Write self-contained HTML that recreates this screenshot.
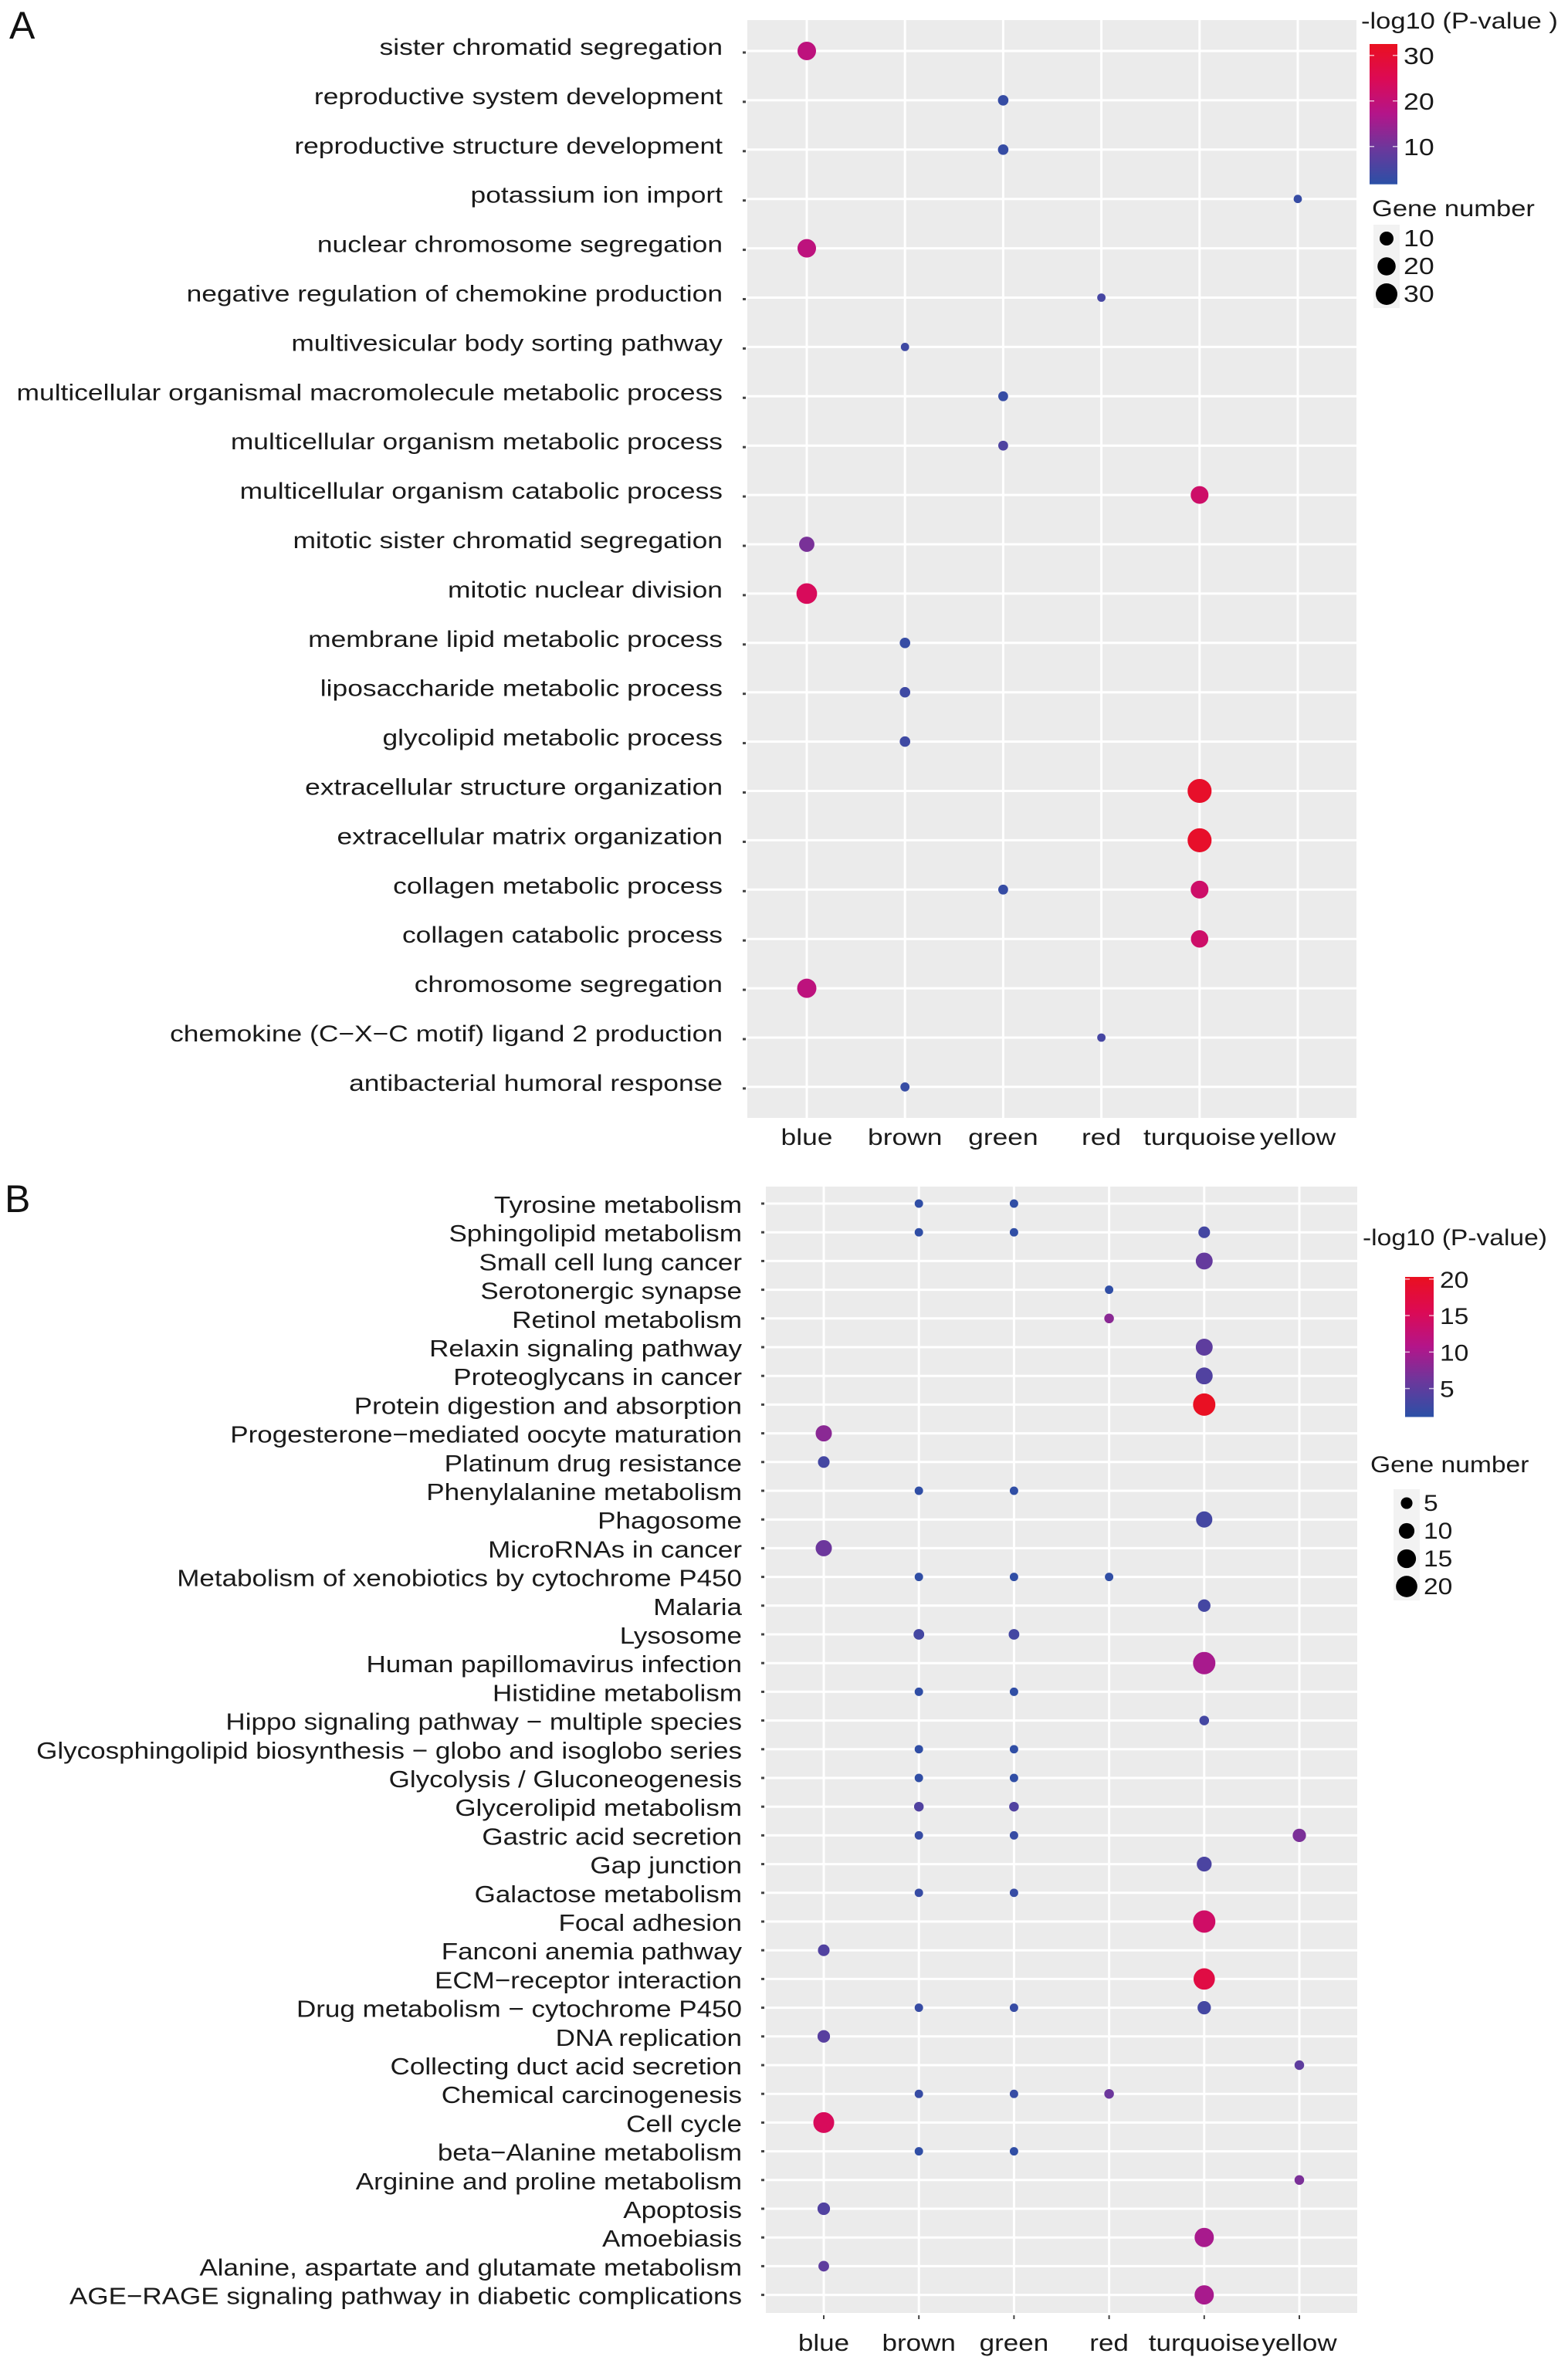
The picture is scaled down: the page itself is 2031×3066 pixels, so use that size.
<!DOCTYPE html>
<html><head><meta charset="utf-8"><style>
html,body{margin:0;padding:0;background:#fff;}
svg{display:block;font-family:"Liberation Sans",Arial,sans-serif;}
</style></head><body>
<svg id="fig" width="2031" height="3066" viewBox="0 0 2031 3066" xmlns="http://www.w3.org/2000/svg">
<text x="12" y="50" font-size="50" fill="#111">A</text>
<text x="6" y="1570" font-size="50" fill="#111">B</text>
<g id="gA"></g>
<g id="gB"></g>
</svg>
<script>
const modules = ["blue","brown","green","red","turquoise","yellow"];
const termsA = ["sister chromatid segregation","reproductive system development","reproductive structure development","potassium ion import","nuclear chromosome segregation","negative regulation of chemokine production","multivesicular body sorting pathway","multicellular organismal macromolecule metabolic process","multicellular organism metabolic process","multicellular organism catabolic process","mitotic sister chromatid segregation","mitotic nuclear division","membrane lipid metabolic process","liposaccharide metabolic process","glycolipid metabolic process","extracellular structure organization","extracellular matrix organization","collagen metabolic process","collagen catabolic process","chromosome segregation","chemokine (C\u2212X\u2212C motif) ligand 2 production","antibacterial humoral response"];
const ptTermA = [0,1,2,3,4,5,6,7,8,9,10,11,12,13,14,15,16,17,17,18,19,20,21];
const ptModA = ["blue","green","green","yellow","blue","red","brown","green","green","turquoise","blue","blue","brown","brown","brown","turquoise","turquoise","green","turquoise","turquoise","blue","red","brown"];
const ptGenesA = [21,4,4,1,21,1,1,3,3,19,13,27,4,4,4,38,38,3,19,18,23,1,2];
const ptLogPA = [19,3,3,3,19,5,4,3,6,22,11,24,3,4,4,31,31,3,22,22,19,5,3];
const colorTicksA = [10,20,30];
const sizeTicksA = [10,20,30];

const termsB = ["Tyrosine metabolism","Sphingolipid metabolism","Small cell lung cancer","Serotonergic synapse","Retinol metabolism","Relaxin signaling pathway","Proteoglycans in cancer","Protein digestion and absorption","Progesterone\u2212mediated oocyte maturation","Platinum drug resistance","Phenylalanine metabolism","Phagosome","MicroRNAs in cancer","Metabolism of xenobiotics by cytochrome P450","Malaria","Lysosome","Human papillomavirus infection","Histidine metabolism","Hippo signaling pathway \u2212 multiple species","Glycosphingolipid biosynthesis \u2212 globo and isoglobo series","Glycolysis / Gluconeogenesis","Glycerolipid metabolism","Gastric acid secretion","Gap junction","Galactose metabolism","Focal adhesion","Fanconi anemia pathway","ECM\u2212receptor interaction","Drug metabolism \u2212 cytochrome P450","DNA replication","Collecting duct acid secretion","Chemical carcinogenesis","Cell cycle","beta\u2212Alanine metabolism","Arginine and proline metabolism","Apoptosis","Amoebiasis","Alanine, aspartate and glutamate metabolism","AGE\u2212RAGE signaling pathway in diabetic complications"];
const ptTermB = [0,0,1,1,1,2,3,4,5,6,7,8,9,10,10,11,12,13,13,13,14,15,15,16,17,17,18,19,19,20,20,21,21,22,22,22,23,24,24,25,26,27,28,28,28,29,30,31,31,31,32,33,33,34,35,36,37,38];
const ptModB = ["brown","green","brown","green","turquoise","turquoise","red","red","turquoise","turquoise","turquoise","blue","blue","brown","green","turquoise","blue","brown","green","red","turquoise","brown","green","turquoise","brown","green","turquoise","brown","green","brown","green","brown","green","brown","green","yellow","turquoise","brown","green","turquoise","blue","turquoise","brown","green","turquoise","blue","yellow","brown","green","red","blue","brown","green","yellow","blue","turquoise","blue","turquoise"];
const ptGenesB = [2,2,2,2,5,12,2,3,12,12,22,11,5,2,2,11,11,2,2,2,6,4,4,22,2,2,3,2,2,2,2,3,3,2,2,7,9,2,2,22,5,20,2,2,7,6,3,2,2,3,19,2,2,3,6,16,4,16];
const ptLogPB = [1.5,1.5,1.5,1.5,3,5.5,1.5,8,5,4,20,8,3,1.5,1.5,3,6,1.5,1.5,1.5,3,3,3,10,1.5,1.5,3,1.5,1.5,1.5,1.5,4,4,2,2,7,3.5,2,2,14,4,17,2,2,3,4.5,5,2,2,6,15,1.5,1.5,7,4,10,5,10];
const colorTicksB = [5,10,15,20];
const sizeTicksB = [5,10,15,20];

const NS="http://www.w3.org/2000/svg";
function mk(tag, attrs, parent, txt){const e=document.createElementNS(NS,tag);for(const k in attrs)e.setAttribute(k,attrs[k]);if(txt!==undefined)e.textContent=txt;parent.appendChild(e);return e;}
const stops=[[0,[43,80,166]],[0.25,[106,56,156]],[0.5,[179,21,138]],[0.75,[220,10,85]],[1,[234,16,32]]];
function grad(t){t=Math.max(0,Math.min(1,t));for(let i=1;i<stops.length;i++){if(t<=stops[i][0]){const a=stops[i-1],b=stops[i];const f=(t-a[0])/(b[0]-a[0]);const c=a[1].map((v,k)=>Math.round(v+(b[1][k]-v)*f));return `rgb(${c[0]},${c[1]},${c[2]})`;}}return 'rgb(234,16,32)';}

function panel(cfg){
  const g=document.getElementById(cfg.gid);
  const defs=mk('defs',{},g);
  const lg=mk('linearGradient',{id:cfg.gid+'grad',x1:0,y1:1,x2:0,y2:0},defs);
  stops.forEach(s=>mk('stop',{offset:s[0],'stop-color':`rgb(${s[1].join(',')})`},lg));
  const bg=mk('rect',{x:cfg.L,y:cfg.T,width:cfg.R-cfg.L,height:cfg.B-cfg.T,fill:'#ebebeb'},g);
  
  
  const xs=j=>cfg.x0+j*cfg.dx;
  const ys=i=>cfg.y0+i*cfg.dy;
  cfg.terms.forEach((t,i)=>{
    const l=mk('line',{x1:cfg.L,x2:cfg.R,y1:ys(i),y2:ys(i),stroke:'#fff','stroke-width':3},g);
    
    
    const tk=mk('line',{x1:cfg.L-6,x2:cfg.L-2,y1:ys(i)+cfg.tickOff,y2:ys(i)+cfg.tickOff,stroke:'#444','stroke-width':3},g);
    
    
    const tx=mk('text',{transform:`translate(${cfg.labR},${ys(i)+cfg.baseOff}) scale(${cfg.sx},1)`,'text-anchor':'end','font-size':cfg.fs,fill:'#1a1a1a'},g,t);
    
    
  });
  modules.forEach((m,j)=>{
    const l=mk('line',{x1:xs(j),x2:xs(j),y1:cfg.T,y2:cfg.B,stroke:'#fff','stroke-width':3},g);
    
    
    if(cfg.xTicks){const tk=mk('line',{x1:xs(j),x2:xs(j),y1:cfg.B+3,y2:cfg.B+8,stroke:'#444','stroke-width':2},g);
      
      }
    const tx=mk('text',{transform:`translate(${xs(j)},${cfg.xBase}) scale(${cfg.sx},1)`,'text-anchor':'middle','font-size':cfg.fs,fill:'#1a1a1a'},g,m);
    
    
  });
  const tOf=v=>(v-cfg.vmin)/(cfg.vmax-cfg.vmin);
  cfg.ptTerm.forEach((ti,k)=>{
    const c=mk('circle',{cx:xs(modules.indexOf(cfg.ptMod[k])),cy:ys(ti),r:cfg.rad(cfg.ptGenes[k]),fill:grad(tOf(cfg.ptLogP[k]))},g);
    
    
  });
  // color legend
  const lt=mk('text',{transform:`translate(${cfg.legX},${cfg.titleY}) scale(${cfg.lsx},1)`,'font-size':30,fill:'#1a1a1a'},g,cfg.cTitle);
  
  
  const cy=v=>cfg.barTopY+(cfg.vmax-v)*cfg.barPx;
  const bar=mk('rect',{x:cfg.barX,y:cy(cfg.vmax),width:cfg.barW,height:(cfg.vmax-cfg.vmin)*cfg.barPx,fill:`url(#${cfg.gid}grad)`},g);
  
  
  cfg.cTicks.forEach(v=>{
    [[cfg.barX,cfg.barX+6],[cfg.barX+cfg.barW-6,cfg.barX+cfg.barW]].forEach(p=>{
      const l=mk('line',{x1:p[0],x2:p[1],y1:cy(v),y2:cy(v),stroke:'#fff','stroke-width':1.5,opacity:0.7},g);
      
      
    });
    const t=mk('text',{transform:`translate(${cfg.barX+cfg.barW+8},${cy(v)+11}) scale(${cfg.lsx},1)`,'font-size':cfg.tfs,fill:'#1a1a1a'},g,String(v));
    
    
  });
  const st=mk('text',{transform:`translate(${cfg.sLegX},${cfg.sTitleY}) scale(${cfg.lsx},1)`,'font-size':30,fill:'#1a1a1a'},g,'Gene number');
  
  
  cfg.sTicks.forEach((v,k)=>{
    const yy=cfg.sY0+k*cfg.sDy;
    const kb=mk('rect',{x:cfg.sDotX-17,y:yy-cfg.sDy/2,width:34,height:cfg.sDy,fill:'#f2f2f2'},g);
    
    
    const c=mk('circle',{cx:cfg.sDotX,cy:yy,r:cfg.rad(v),fill:'#000'},g);
    
    
    const t=mk('text',{transform:`translate(${cfg.sDotX+22},${yy+10}) scale(${cfg.lsx},1)`,'font-size':cfg.tfs,fill:'#1a1a1a'},g,String(v));
    
    
  });
}

panel({gid:'gA',terms:termsA,ptTerm:ptTermA,ptMod:ptModA,ptGenes:ptGenesA,ptLogP:ptLogPA,
  L:968,R:1757,T:26,B:1448,x0:1045,dx:127.2,y0:66,dy:63.9,labR:936,baseOff:5,tickOff:2,fs:30,sx:1.18,
  xBase:1483,xTicks:false,vmin:1.7,vmax:32.5,rad:g=>Math.sqrt(23.5+5.75*g)*1.0,
  cTitle:'-log10 (P-value )',legX:1763,titleY:37,lsx:1.15,barX:1774,barW:36,barTopY:57,barPx:5.9,cTicks:colorTicksA,tfs:31,
  sLegX:1777,sTitleY:280,sTicks:sizeTicksA,sY0:309,sDy:36,sDotX:1796});
panel({gid:'gB',terms:termsB,ptTerm:ptTermB,ptMod:ptModB,ptGenes:ptGenesB,ptLogP:ptLogPB,
  L:992,R:1758,T:1537,B:2996,x0:1067,dx:123.2,y0:1559,dy:37.2,labR:961,baseOff:12,tickOff:0,fs:31,sx:1.13,
  xBase:3045,xTicks:true,vmin:1.1,vmax:20.3,rad:g=>Math.sqrt(12+9*g),
  cTitle:'-log10 (P-value)',legX:1765,titleY:1613,lsx:1.12,barX:1820,barW:37,barTopY:1654,barPx:9.45,cTicks:colorTicksB,tfs:30,
  sLegX:1775,sTitleY:1907,sTicks:sizeTicksB,sY0:1947,sDy:36,sDotX:1822});
</script>
</body></html>
